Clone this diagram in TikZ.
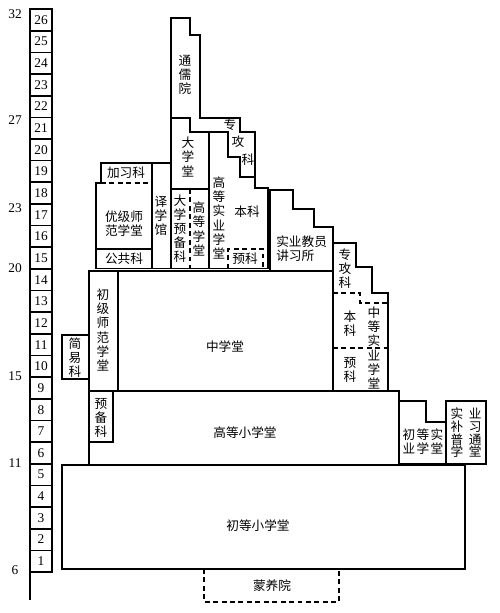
\documentclass[tikz,border=0pt]{standalone}
\usepackage{fontspec}
\setmainfont{Liberation Serif}
\newfontfamily\cjk{Noto Sans CJK SC}

\begin{document}
\begin{tikzpicture}[x=0.025cm,y=-0.025cm,
	wall/.style={line width=1.2pt},
	dashline/.style={line width=1pt,dash pattern=on 3.5pt off 2.5pt},
	txt/.style={font=\cjk\fontsize{9}{10}\selectfont,inner sep=0pt,align=center},
	num/.style={font=\fontsize{9.5}{10}\selectfont,inner sep=0pt}]
	\useasboundingbox (0,0) rectangle (500,613);
	
	% age scale and school years
	\draw[wall] (30,9) -- (30,600);
	\foreach \i in {1,...,26}{
		\draw[wall] (30,{572-(\i-1)*21.65}) rectangle (52,{572-\i*21.65});
		\node[num] (r\i) at (41,{572-(\i-0.5)*21.65}) {\i};
	}
	\foreach \a/\y in {6/570,11/463,15/376,20/268,23/208,27/120,32/14}
		\node[num] (age\a) at (15,\y) {\a};
	
	% primary level
	\draw[wall] (62,465) rectangle (465,569);
	\node[txt] (chudeng) at (258,526) {初等小学堂};
	\draw[dashline] (204,569) -- (204,602) -- (339,602) -- (339,569);
	\node[txt] (mengyang) at (272,586) {蒙养院};
	\draw[wall] (89,465) -- (89,391) -- (399,391) -- (399,465);
	\node[txt] (gaodeng) at (245,433) {高等小学堂};
	\draw[wall] (89,391) rectangle (113,442);
	\node[txt] (yubei) at (101,418) {预\\备\\科};
	\draw[wall] (399,464) -- (399,401) -- (426,401) -- (426,422) -- (446,422) -- (446,464) -- cycle;
	\node[txt] (chuye) at (423,442) {初\hspace{1pt}等\hspace{1pt}实\\业\hspace{1pt}学\hspace{1pt}堂};
	\draw[wall] (446,401) rectangle (486,464);
	\node[txt,font=\cjk\fontsize{9}{9}\selectfont] (buxi) at (466,433) {实\hspace{4pt}业\\补\hspace{4pt}习\\普\hspace{4pt}通\\学\hspace{4pt}堂};
	
	% middle level
	\draw[wall] (62,335) rectangle (89,379);
	\node[txt] (jianyi) at (75,358) {简\\易\\科};
	\draw[wall] (89,271) rectangle (118,391);
	\node[txt] (chuji) at (103,330) {初\\级\\师\\范\\学\\堂};
	\draw[wall] (118,271) rectangle (333,391);
	\node[txt] (zhongxue) at (225,347) {中学堂};
	\draw[wall] (333,391) -- (333,243) -- (356,243) -- (356,267) -- (372,267) -- (372,293) -- (388,293) -- (388,391);
	\draw[dashline] (333,293) -- (360,293) -- (360,303) -- (388,303);
	\draw[dashline] (333,348) -- (388,348);
	\node[txt] (zg2) at (345,269) {专\\攻\\科};
	\node[txt] (benke2) at (350,324) {本\\科};
	\node[txt] (yuke2) at (350,370) {预\\科};
	\node[txt] (zdsy) at (374,348) {中\\等\\实\\业\\学\\堂};
	\draw[wall] (270,271) -- (270,190) -- (293,190) -- (293,209) -- (314,209) -- (314,227) -- (333,227) -- (333,271);
	\node[txt,anchor=west,align=left] (jiangxi) at (276,249) {实业教员\\讲习所};
	
	% higher level
	\draw[wall] (96,268.5) -- (96,183) -- (101,183) -- (101,163) -- (152,163) -- (152,268.5);
	\draw[dashline] (101,183) -- (152,183);
	\draw[wall] (96,249) -- (152,249);
	\node[txt] (jiaxi) at (126,173) {加习科};
	\node[txt] (youji) at (124,224) {优级师\\范学堂};
	\node[txt] (gonggong) at (124,259) {公共科};
	\draw[wall] (152,163) -- (171,163) -- (171,268.5);
	\node[txt] (yixue) at (161,216) {译\\学\\馆};
	\draw[wall] (96,268.5) -- (268,268.5);
	\draw[wall] (171,268.5) -- (171,18) -- (190,18) -- (190,35) -- (200,35) -- (200,118) -- (240,118)
		-- (240,132) -- (255,132) -- (255,188) -- (268,188) -- (268,268.5);
	\node[txt] (tongru) at (185,75) {通\\儒\\院};
	\draw[wall] (171,118) -- (190,118) -- (190,132) -- (228,132) -- (228,157) -- (240,157) -- (240,177) -- (255,177);
	\node[txt] (zg1a) at (230,125) {专};
	\node[txt] (zg1b) at (238,142) {攻};
	\node[txt] (zg1c) at (248,160) {科};
	\draw[wall] (209,132) -- (209,268.5);
	\draw[wall] (171,189) -- (209,189);
	\node[txt] (daxue) at (188,157) {大\\学\\堂};
	\draw[dashline] (190,189) -- (190,268.5);
	\node[txt] (daxueyu) at (180,229) {大\\学\\预\\备\\科};
	\node[txt] (gdxt) at (199,229) {高\\等\\学\\堂};
	\node[txt] (gdsy) at (219,218) {高\\等\\实\\业\\学\\堂};
	\node[txt] (benke1) at (247,212) {本科};
	\draw[dashline] (228,268.5) -- (228,249) -- (263,249) -- (263,268.5);
	\node[txt] (yuke1) at (245,259) {预科};
\end{tikzpicture}
\end{document}
